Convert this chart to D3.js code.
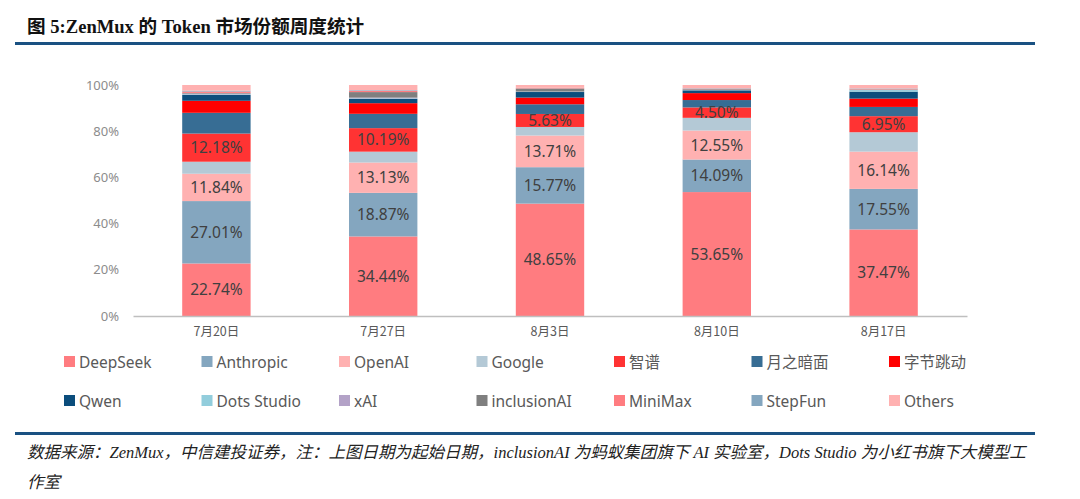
<!DOCTYPE html>
<html>
<head>
<meta charset="utf-8">
<script src="https://cdn.jsdelivr.net/npm/d3@7"></script>
<style>
  body { margin: 0; background: #fff; }
  svg { display: block; }
</style>
</head>
<body>
<div class="chart"></div>
<script>
// categories and series (share %)
var weeks = ["7月20日", "7月27日", "8月3日", "8月10日", "8月17日"];
var models = ["DeepSeek", "Anthropic", "OpenAI", "Google", "智谱", "月之暗面", "字节跳动",
              "Qwen", "Dots Studio", "xAI", "inclusionAI", "MiniMax", "StepFun", "Others"];

var deepseek   = [22.74, 34.44, 48.65, 53.65, 37.47];
var anthropic  = [27.01, 18.87, 15.77, 14.09, 17.55];
var openai     = [11.84, 13.13, 13.71, 12.55, 16.14];
var google     = [5.2, 4.7, 3.7, 5.5, 8.4];
var zhipu      = [12.18, 10.19, 5.63, 4.50, 6.95];
var moonshot   = [9.0, 6.2, 4.2, 3.2, 4.0];
var bytedance  = [5.2, 4.6, 2.9, 3.0, 3.6];
var qwen       = [2.6, 1.9, 2.4, 1.2, 3.0];
var dots       = [0.2, 0.2, 0.1, 0.1, 0.7];
var xai        = [0.3, 0.3, 0.1, 0.1, 0.1];
var inclusion  = [0.3, 2.4, 1.3, 0.3, 0.2];
var minimax    = [0.6, 0.5, 0.2, 0.2, 0.2];
var stepfun    = [0.4, 0.3, 0.1, 0.2, 0.2];
var others     = [2.43, 2.27, 1.24, 1.41, 1.49];

var yTicks = [0, 20, 40, 60, 80, 100];
var labelled = ["DeepSeek", "Anthropic", "OpenAI", "智谱"];

var colors = ["#ff7c80", "#84a6bf", "#ffb1b1", "#b4c9d6", "#ff3333", "#376d94", "#ff0000",
              "#0b4d7c", "#92cddc", "#b3a2c7", "#7f7f7f", "#ff7c80", "#84a6bf", "#ffb1b1"];

var series = [deepseek, anthropic, openai, google, zhipu, moonshot, bytedance,
              qwen, dots, xai, inclusion, minimax, stepfun, others];

var rows = weeks.map(function (w, i) {
  var r = { week: w };
  models.forEach(function (m, k) { r[m] = series[k][i]; });
  return r;
});

var width = 1080, height = 499;
var svg = d3.select(".chart").append("svg")
  .attr("width", width)
  .attr("height", height);

var cjk = "'Noto Sans CJK SC', sans-serif";
var latin = "'Noto Sans', 'Noto Sans CJK SC', sans-serif";

// title + rules
svg.append("text")
  .attr("x", 27).attr("y", 33)
  .attr("font-family", "'Liberation Serif', 'Noto Sans CJK SC', serif")
  .attr("font-weight", "bold")
  .attr("font-size", 18.6)
  .attr("fill", "#111")
  .text("图 5:ZenMux 的 Token 市场份额周度统计");

svg.append("rect").attr("x", 15).attr("y", 42).attr("width", 1020).attr("height", 3).attr("fill", "#1a5182");
svg.append("rect").attr("x", 15).attr("y", 432).attr("width", 1020).attr("height", 3).attr("fill", "#1a5182");

// scales
var x = d3.scaleBand().domain(weeks).range([133, 967]).paddingInner(0.59).paddingOuter(0.295);
var y = d3.scaleLinear().domain([0, 100]).range([316, 85]);

var stack = d3.stack().keys(models)(rows);

var layers = svg.append("g").selectAll("g")
  .data(stack)
  .enter().append("g")
  .attr("fill", function (d, i) { return colors[i]; });

layers.selectAll("rect")
  .data(function (d) { return d; })
  .enter().append("rect")
  .attr("x", function (d) { return x(d.data.week); })
  .attr("width", x.bandwidth())
  .attr("y", function (d) { return y(d[1]); })
  .attr("height", function (d) { return y(d[0]) - y(d[1]); });

// value labels on the big four
stack.filter(function (s) { return labelled.indexOf(s.key) >= 0; }).forEach(function (s) {
  svg.append("g").selectAll("text")
    .data(s)
    .enter().append("text")
    .attr("x", function (d) { return x(d.data.week) + x.bandwidth() / 2; })
    .attr("y", function (d) { return (y(d[0]) + y(d[1])) / 2; })
    .attr("dy", "0.36em")
    .attr("text-anchor", "middle")
    .attr("font-family", latin)
    .attr("font-size", 15.5)
    .attr("fill", "#404040")
    .text(function (d) { return (d[1] - d[0]).toFixed(2) + "%"; });
});

// y axis (labels only)
var yAxis = svg.append("g")
  .attr("transform", "translate(122,0)")
  .call(d3.axisLeft(y).tickValues(yTicks).tickSize(0).tickFormat(function (d) { return d + "%"; }));
yAxis.select(".domain").remove();
yAxis.selectAll("text")
  .attr("font-family", latin)
  .attr("font-size", 13)
  .attr("fill", "#8c8c8c");

// x axis
var xAxis = svg.append("g")
  .attr("transform", "translate(0,316)")
  .call(d3.axisBottom(x).tickSize(0).tickPadding(11));
xAxis.select(".domain").attr("stroke", "#bfbfbf").attr("stroke-width", 1.5);
xAxis.selectAll("text")
  .attr("font-family", cjk)
  .attr("font-size", 12.5)
  .attr("fill", "#595959");

// legend
var legend = svg.append("g").selectAll("g")
  .data(models)
  .enter().append("g")
  .attr("transform", function (d, i) {
    return "translate(" + (64 + (i % 7) * 137.5) + "," + (i < 7 ? 356 : 395) + ")";
  });
legend.append("rect")
  .attr("width", 11).attr("height", 11)
  .attr("fill", function (d, i) { return colors[i]; });
legend.append("text")
  .attr("x", 15).attr("y", 6)
  .attr("dy", "0.36em")
  .attr("font-family", latin)
  .attr("font-size", 15.5)
  .attr("fill", "#595959")
  .text(function (d) { return d; });

// source note
var note = svg.append("text")
  .attr("font-family", "'Liberation Serif', 'Noto Sans CJK SC', serif")
  .attr("font-style", "italic")
  .attr("font-size", 16.5)
  .attr("fill", "#222");
note.append("tspan").attr("x", 27).attr("y", 458)
  .text("数据来源：ZenMux，中信建投证券，注：上图日期为起始日期，inclusionAI 为蚂蚁集团旗下 AI 实验室，Dots Studio 为小红书旗下大模型工");
note.append("tspan").attr("x", 27).attr("y", 488).text("作室");
</script>
</body>
</html>
